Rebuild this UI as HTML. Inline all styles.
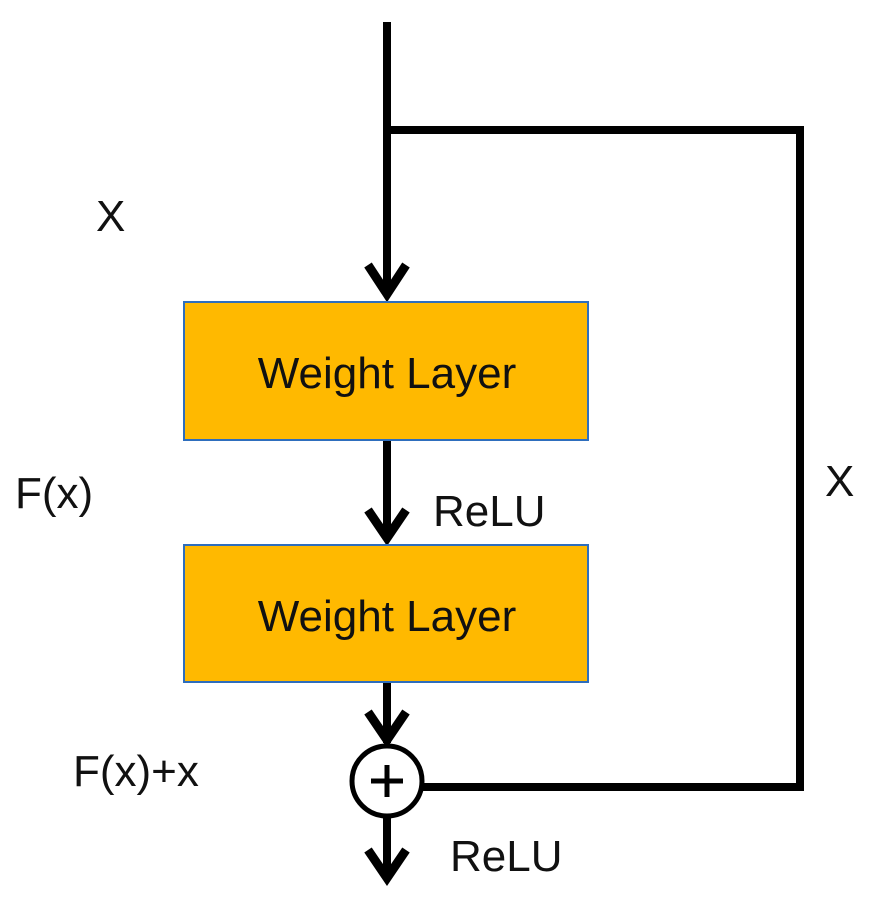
<!DOCTYPE html>
<html><head><style>
body{margin:0;background:#fff;width:869px;height:900px;overflow:hidden}
svg text{font-family:"Liberation Sans",sans-serif;fill:#111}
</style></head><body>
<svg width="869" height="900" viewBox="0 0 869 900">
<g stroke="#000" stroke-width="8" fill="none" stroke-linejoin="miter">
<line x1="387" y1="22" x2="387" y2="296"/>
<polyline points="368,265 387,294 406,265" stroke-width="9"/>
<polyline points="387,130 800,130 800,787 423,787"/>
<line x1="387" y1="440" x2="387" y2="538"/>
<polyline points="368,510 387,538 406,510" stroke-width="9"/>
<line x1="387" y1="682" x2="387" y2="743"/>
<polyline points="368,712 387,740 406,712" stroke-width="9"/>
<line x1="387" y1="818" x2="387" y2="880"/>
<polyline points="368,850 387,878 406,850" stroke-width="9"/>
</g>
<rect x="184" y="302" width="404" height="138" fill="#ffb900" stroke="#2e6ebd" stroke-width="2"/>
<rect x="184" y="545" width="404" height="137" fill="#ffb900" stroke="#2e6ebd" stroke-width="2"/>
<circle cx="387" cy="781" r="35" fill="#fff" stroke="#000" stroke-width="5"/>
<line x1="387" y1="765" x2="387" y2="797" stroke="#000" stroke-width="5"/>
<line x1="371" y1="781" x2="403" y2="781" stroke="#000" stroke-width="5"/>
<text x="387" y="388" font-size="44" text-anchor="middle">Weight Layer</text>
<text x="387" y="631" font-size="44" text-anchor="middle">Weight Layer</text>
<text x="96" y="231" font-size="44">X</text>
<text x="825" y="496" font-size="44">X</text>
<text x="15" y="508" font-size="44">F(x)</text>
<text x="433" y="526" font-size="44">ReLU</text>
<text x="73" y="786" font-size="44">F(x)+x</text>
<text x="450" y="871" font-size="44">ReLU</text>
</svg>
</body></html>
